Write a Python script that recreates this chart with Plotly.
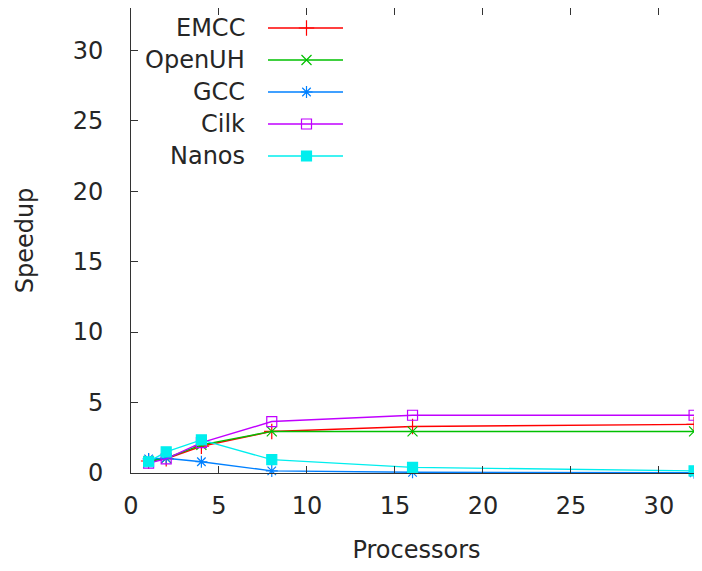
import plotly.graph_objects as go

processors = [1, 2, 4, 8, 16, 32]
series_names = ["EMCC", "OpenUH", "GCC", "Cilk", "Nanos"]
emcc = [0.85, 1.0, 1.9, 2.95, 3.3, 3.45]
openuh = [0.85, 1.05, 2.0, 2.95, 2.95, 2.95]
gcc = [1.0, 1.05, 0.8, 0.15, 0.05, 0.02]
cilk = [0.7, 1.0, 2.15, 3.65, 4.1, 4.1]
nanos = [0.8, 1.5, 2.35, 0.95, 0.4, 0.15]
x_ticks = [0, 5, 10, 15, 20, 25, 30]
y_ticks = [0, 5, 10, 15, 20, 25, 30]

values = [emcc, openuh, gcc, cilk, nanos]
colors = ["#ff0000", "#00c000", "#0080ff", "#c000ff", "#00eeee"]
symbols = ["cross-thin-open", "x-thin-open", "asterisk-open", "square-open", "square"]
msizes = [11, 10, 10, 10, 10]

# page body has an 8px margin, so the figure is sized to the visible area
W, H = 694, 563
L, R, T, B = 123, 0, 0, 98
FONT = "DejaVu Sans"
TXT = "#262626"

fig = go.Figure()
for name, ys, c, s, ms in zip(series_names, values, colors, symbols, msizes):
    fig.add_trace(go.Scatter(
        x=processors, y=ys, name=name, mode="lines+markers",
        line=dict(color=c, width=1.4),
        marker=dict(symbol=s, size=ms, color=c, line=dict(color=c, width=1.2)),
        cliponaxis=False, showlegend=False,
    ))

# legend drawn gnuplot-style (text then sample) on an overlay pixel axis
row0, row_step = 20, 32
text_right, samp_x0, samp_x1 = 239, 260, 335
for i, (name, c, s, ms) in enumerate(zip(series_names, colors, symbols, msizes)):
    ry = row0 + i * row_step
    fig.add_trace(go.Scatter(
        x=[samp_x0, samp_x1], y=[ry, ry],
        mode="lines", line=dict(color=c, width=1.4),
        xaxis="x2", yaxis="y2", showlegend=False, hoverinfo="skip",
    ))
    fig.add_trace(go.Scatter(
        x=[(samp_x0 + samp_x1) / 2 + 1], y=[ry], mode="markers",
        marker=dict(symbol=s, size=ms, color=c, line=dict(color=c, width=1.2)),
        xaxis="x2", yaxis="y2", showlegend=False, hoverinfo="skip",
    ))
    fig.add_annotation(x=text_right, y=ry, xref="x2", yref="y2", text=name,
                       showarrow=False, xanchor="right", yanchor="middle",
                       font=dict(family=FONT, size=24, color=TXT))

axis_common = dict(
    showline=True, linecolor="#333333", linewidth=1, ticks="inside",
    ticklen=7, tickwidth=1, tickcolor="#333333", showgrid=False, zeroline=False,
    tickfont=dict(family=FONT, size=24, color=TXT),
)
fig.update_layout(
    width=W, height=H,
    margin=dict(l=L, r=R, t=T, b=B, pad=0),
    paper_bgcolor="white", plot_bgcolor="white",
    xaxis=dict(range=[0, 32.45], tickvals=x_ticks, mirror="allticks",
               ticklabelstandoff=11,
               title=dict(text="Processors", standoff=22,
                          font=dict(family=FONT, size=24, color=TXT)),
               **axis_common),
    yaxis=dict(range=[0, 33.0], tickvals=y_ticks, mirror=False,
               ticklabelstandoff=22,
               title=dict(text="Speedup", standoff=32,
                          font=dict(family=FONT, size=24, color=TXT)),
               **axis_common),
    xaxis2=dict(overlaying="x", range=[L, W], visible=False, fixedrange=True),
    yaxis2=dict(overlaying="y", range=[H - B, T], visible=False, fixedrange=True),
)
fig.write_html("out.html")
